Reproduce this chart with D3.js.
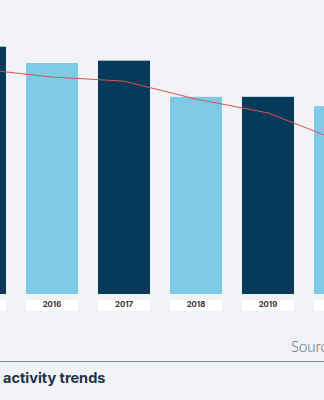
<!DOCTYPE html>
<html>
<head>
<meta charset="utf-8">
<script src="https://cdn.jsdelivr.net/npm/d3@7"></script>
<style>
  html, body { margin: 0; padding: 0; background: #f0f2f5; overflow: hidden; }
  svg { display: block; }
</style>
</head>
<body>
<svg id="chart" width="324" height="400"></svg>
<script>
const years = ["2015", "2016", "2017", "2018", "2019", "2020"];
const barValues = [1060, 990, 1000, 845, 845, 805];
const lineValues = [7.65, 7.38, 7.24, 6.63, 6.16, 5.2];
const titleText = "activity trends";
const sourceText = "Source: Company data";

const svg = d3.select("#chart");
const W = 324, H = 400;
svg.append("rect").attr("width", W).attr("height", H).attr("fill", "#f0f2f5");

const x = d3.scaleBand().domain(years).range([-56, 376]).paddingInner(20 / 72).paddingOuter(10 / 72);
const y = d3.scaleLinear().domain([0, 1260]).range([294, 0]);
const yLine = d3.scaleLinear().domain([0, 10]).range([294, 0]);

svg.selectAll("rect.bar").data(years).join("rect")
  .attr("class", "bar")
  .attr("x", d => x(d))
  .attr("width", x.bandwidth())
  .attr("y", (d, i) => y(barValues[i]))
  .attr("height", (d, i) => y(0) - y(barValues[i]))
  .attr("fill", (d, i) => i % 2 === 0 ? "#053a5a" : "#7ecae6");

// label boxes
svg.selectAll("rect.lbl").data(years).join("rect")
  .attr("class", "lbl")
  .attr("x", d => x(d))
  .attr("width", x.bandwidth())
  .attr("y", 300)
  .attr("height", 11)
  .attr("fill", "#ffffff");

const axis = d3.axisBottom(x).tickSize(0).tickPadding(0);
const gx = svg.append("g").attr("transform", "translate(0,301)").call(axis);
gx.select(".domain").remove();
gx.selectAll("text")
  .attr("font-family", "Inter, 'Noto Sans', sans-serif")
  .attr("font-size", 7.8)
  .attr("font-weight", 700)
  .attr("fill", "#333");

const line = d3.line()
  .x((d, i) => x(years[i]) + x.bandwidth() / 2)
  .y(d => yLine(d));
svg.append("path").datum(lineValues)
  .attr("d", line)
  .attr("fill", "none")
  .attr("stroke", "#d9534f")
  .attr("stroke-width", 1);

svg.append("text")
  .attr("x", 291).attr("y", 352)
  .attr("font-family", "Lato, 'Open Sans', sans-serif")
  .attr("font-weight", 300)
  .attr("font-size", 15)
  .attr("fill", "#5a6670")
  .text(sourceText);

svg.append("line")
  .attr("x1", 0).attr("x2", W).attr("y1", 361.5).attr("y2", 361.5)
  .attr("stroke", "#7d8b93").attr("stroke-width", 1);

svg.append("text")
  .attr("x", 3).attr("y", 383)
  .attr("font-family", "Inter, 'Noto Sans', sans-serif")
  .attr("font-weight", 700)
  .attr("font-size", 14.5)
  .attr("fill", "#1f3447")
  .text(titleText);
</script>
</body>
</html>
